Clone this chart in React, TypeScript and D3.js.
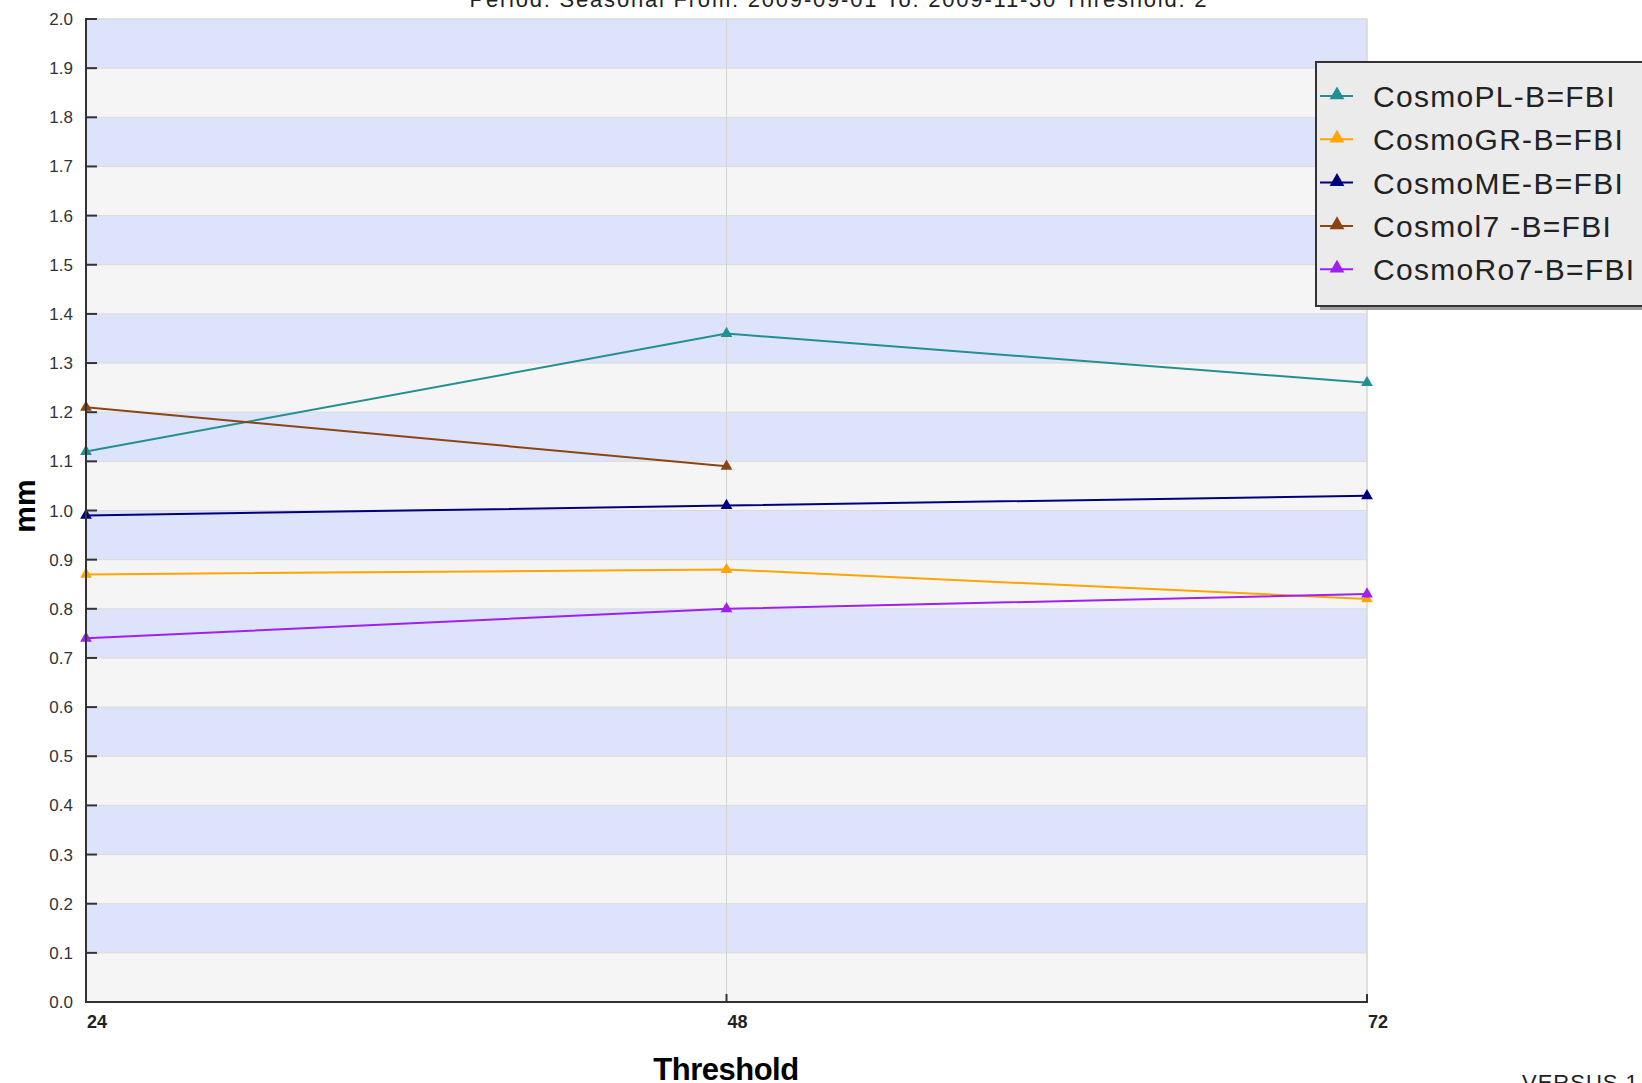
import React from "react";
import * as d3 from "d3";

const categories = ["24", "48", "72"];
const yTicks = d3.range(0, 21).map((i) => i / 10);
const seriesNames = ["CosmoPL-B=FBI", "CosmoGR-B=FBI", "CosmoME-B=FBI", "CosmoI7 -B=FBI", "CosmoRo7-B=FBI"];
const legendLabels = ["CosmoPL-B=FBI", "CosmoGR-B=FBI", "CosmoME-B=FBI", "Cosmol7 -B=FBI", "CosmoRo7-B=FBI"];
const seriesColors = ["#229090", "#ffa500", "#00007f", "#8b4513", "#a020f0"];
const cosmoPL = [1.12, 1.36, 1.26];
const cosmoGR = [0.87, 0.88, 0.82];
const cosmoME = [0.99, 1.01, 1.03];
const cosmoI7: (number | null)[] = [1.21, 1.09, null];
const cosmoRo7 = [0.74, 0.8, 0.83];
const seriesValues: (number | null)[][] = [cosmoPL, cosmoGR, cosmoME, cosmoI7, cosmoRo7];
const titleText = "Period: Seasonal From:  2009-09-01   To:  2009-11-30  Threshold: 2";
const xTitle = "Threshold";
const yTitle = "mm";
const footer = "VERSUS 1.0";

const W = 1642;
const H = 1083;
const left = 86;
const right = 1367;
const top = 19;
const bottom = 1002;

export default function App() {
  const x = d3.scalePoint<string>().domain(categories).range([left, right]).padding(0);
  const y = d3.scaleLinear().domain([0, 2]).range([bottom, top]);
  const tri = d3.symbol().type(d3.symbolTriangle).size(60);
  const triLeg = d3.symbol().type(d3.symbolTriangle).size(95);
  const line = d3
    .line<[string, number | null]>()
    .defined((d) => d[1] != null)
    .x((d) => x(d[0]) as number)
    .y((d) => y(d[1] as number));

  const bands = d3.range(0, 20).map((i) => ({ lo: i / 10, hi: (i + 1) / 10, blue: i % 2 === 1 }));
  const legX = 1316;
  const legY = 62;
  const legRow = 43.3;

  return (
    <div style={{ position: "absolute", left: 0, top: 0 }}>
      <svg width={W} height={H} style={{ display: "block", background: "#fff" }} fontFamily="'Liberation Sans', Arial, sans-serif">
        {/* bands */}
        {bands.map((b, i) => (
          <rect key={i} x={left} y={y(b.hi)} width={right - left} height={y(b.lo) - y(b.hi)} fill={b.blue ? "#dde3fb" : "#f5f5f5"} />
        ))}
        {/* gridlines */}
        {yTicks.map((t) => (
          <line key={t} x1={left} x2={right} y1={y(t)} y2={y(t)} stroke="#dadada" strokeWidth={1} />
        ))}
        {categories.map((c) => (
          <line key={c} x1={x(c)} x2={x(c)} y1={top} y2={bottom} stroke="#d4d4d4" strokeWidth={1} />
        ))}
        <rect x={left} y={top} width={right - left} height={bottom - top} fill="none" stroke="#d8d8d8" strokeWidth={1} />
        {/* series */}
        {seriesValues.map((vals, si) => (
          <g key={si}>
            <path
              d={line(categories.map((c, i) => [c, vals[i]] as [string, number | null])) || ""}
              fill="none"
              stroke={seriesColors[si]}
              strokeWidth={2}
            />
            {vals.map((v, i) =>
              v == null ? null : (
                <path key={i} d={tri() || ""} transform={`translate(${x(categories[i])},${y(v)})`} fill={seriesColors[si]} />
              )
            )}
          </g>
        ))}
        {/* axes */}
        <line x1={left} x2={left} y1={top - 1} y2={bottom + 1} stroke="#333" strokeWidth={2} />
        <line x1={left - 1} x2={right + 1} y1={bottom} y2={bottom} stroke="#333" strokeWidth={2} />
        {yTicks.map((t) => (
          <g key={t}>
            <line x1={left} x2={left + 11} y1={y(t)} y2={y(t)} stroke="#333" strokeWidth={2} />
            <text x={73} y={y(t) + 6} textAnchor="end" fontSize={17} fill="#333">
              {t.toFixed(1)}
            </text>
          </g>
        ))}
        {categories.map((c) => (
          <g key={c}>
            <line x1={x(c)} x2={x(c)} y1={bottom} y2={bottom - 8} stroke="#333" strokeWidth={2} />
            <text x={(x(c) as number) + 1} y={1028} fontSize={18} fontWeight="bold" fill="#222">
              {c}
            </text>
          </g>
        ))}
        <text x={726} y={1080} textAnchor="middle" fontSize={31} fontWeight="bold" fill="#000" letterSpacing={-0.5}>
          {xTitle}
        </text>
        <text transform="translate(35,506) rotate(-90)" textAnchor="middle" fontSize={30} fontWeight="bold" fill="#000">
          {yTitle}
        </text>
        {/* title */}
        <text x={838} y={7} textAnchor="middle" fontSize={22} fill="#222" textLength={737} lengthAdjust="spacing">
          {titleText}
        </text>
        {/* legend */}
        <rect x={legX + 4} y={legY + 4} width={340} height={244} fill="#9a9a9a" />
        <rect x={legX} y={legY} width={340} height={244} fill="#ebebeb" stroke="#333" strokeWidth={2} />
        {legendLabels.map((name, i) => {
          const cy = legY + 34 + i * legRow;
          return (
            <g key={name}>
              <line x1={legX + 4} x2={legX + 37} y1={cy} y2={cy} stroke={seriesColors[i]} strokeWidth={2} />
              <path d={triLeg() || ""} transform={`translate(${legX + 21},${cy - 1})`} fill={seriesColors[i]} />
              <text x={legX + 57} y={cy + 11} fontSize={30} fill="#222" letterSpacing={1.3}>
                {name}
              </text>
            </g>
          );
        })}
        <text x={1522} y={1090} fontSize={22} fill="#222" letterSpacing={1}>
          {footer}
        </text>
      </svg>
    </div>
  );
}
